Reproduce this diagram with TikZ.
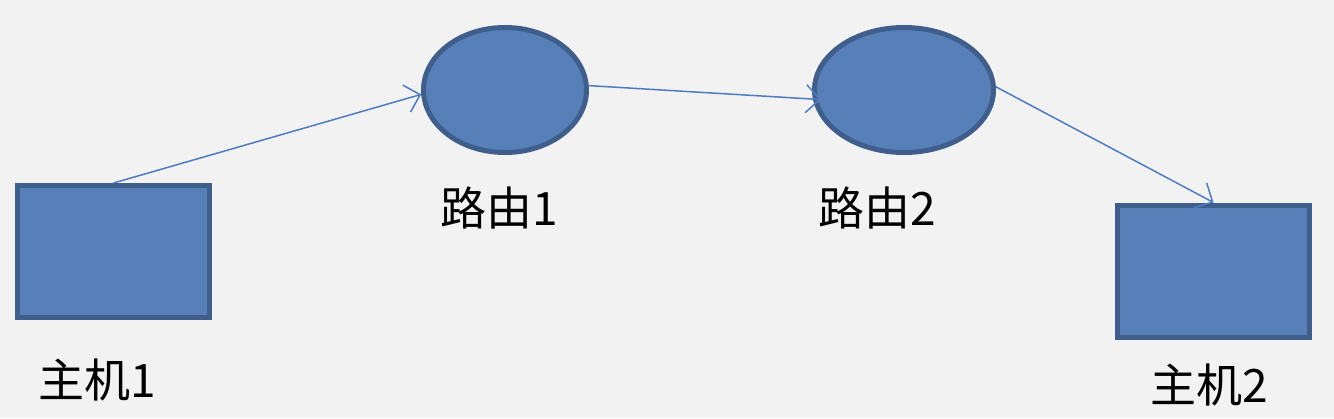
\documentclass[tikz,border=0pt]{standalone}
\usepackage{fontspec}
\newfontfamily\cjk{Noto Sans CJK SC}
\usetikzlibrary{shapes.geometric,arrows.meta}
\definecolor{bg}{HTML}{F2F2F2}
\definecolor{fillblue}{HTML}{5880B8}
\definecolor{edgeblue}{HTML}{3F5E8C}
\definecolor{linkblue}{HTML}{4F7CC0}
\tikzset{
  host/.style={draw=edgeblue, fill=fillblue, line width=5pt, rectangle, minimum width=192pt, minimum height=132pt, inner sep=0pt},
  router/.style={draw=edgeblue, fill=fillblue, line width=5pt, ellipse, inner sep=0pt},
  lbl/.style={font=\cjk\fontsize{46}{50}\selectfont, inner sep=0pt, text=black},
  link/.style={draw=linkblue, line width=1.5pt, -{Straight Barb[length=14pt, width=28pt, line width=1.5pt]}}
}
\begin{document}
\begin{tikzpicture}[x=1pt, y=-1pt]
\fill[bg] (0,0) rectangle (1334,418);
\useasboundingbox (0,0) rectangle (1334,418);
\node[host] (h1) at (113.5,251.5) {};
\node[router, minimum width=163pt, minimum height=125pt] (r1) at (505,90) {};
\node[router, minimum width=179pt, minimum height=125pt] (r2) at (904,90) {};
\node[host] (h2) at (1213.5,271) {};
\node[lbl] (t1) at (499,208) {路由1};
\node[lbl] (t2) at (877,208) {路由2};
\node[lbl] (t3) at (97,380) {主机1};
\node[lbl] (t4) at (1209,385) {主机2};
\draw[link] (h1.north) -- (r1.183);
\draw[link] (r1.3) -- ([xshift=8pt]r2.186);
\draw[link] (r2.2) -- (h2.north);
\end{tikzpicture}
\end{document}
